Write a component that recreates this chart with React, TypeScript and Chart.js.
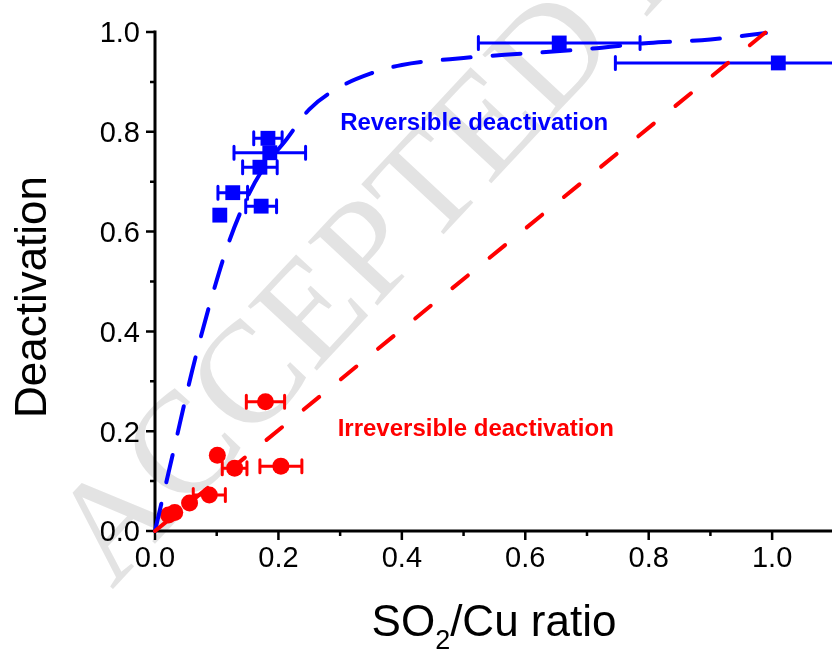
import React, { useEffect, useRef } from "react";
import { Chart, registerables } from "chart.js";

Chart.register(...registerables);

// Reversible deactivation (blue squares) with horizontal error half-widths
const revRatio = [0.105, 0.126, 0.172, 0.17, 0.186, 0.183, 0.655, 1.01];
const revDeact = [0.633, 0.678, 0.651, 0.729, 0.758, 0.787, 0.978, 0.938];
const revRatioErr = [0, 0.024, 0.025, 0.028, 0.058, 0.023, 0.131, 0.264];

// Irreversible deactivation (red circles) with horizontal error half-widths
const irrRatio = [0.022, 0.032, 0.056, 0.088, 0.101, 0.129, 0.179, 0.204];
const irrDeact = [0.032, 0.037, 0.056, 0.072, 0.152, 0.126, 0.259, 0.13];
const irrRatioErr = [0, 0, 0, 0.026, 0, 0.02, 0.031, 0.034];

// Dashed guide curves
const revCurveX = [0, 0.03, 0.06, 0.09, 0.12, 0.15, 0.18, 0.21, 0.25, 0.3, 0.35, 0.4, 0.5, 0.6, 0.7, 0.8, 0.9, 0.99];
const revCurveY = [0, 0.16, 0.32, 0.46, 0.58, 0.67, 0.735, 0.78, 0.845, 0.89, 0.917, 0.934, 0.948, 0.957, 0.966, 0.978, 0.985, 0.998];
const irrCurveX = [0, 0.99];
const irrCurveY = [0, 1.0];

// Axis ticks
const xMajorTicks = [0, 0.2, 0.4, 0.6, 0.8, 1.0];
const xMinorTicks = [0.1, 0.3, 0.5, 0.7, 0.9];
const yMajorTicks = [0, 0.2, 0.4, 0.6, 0.8, 1.0];
const yMinorTicks = [0.1, 0.3, 0.5, 0.7, 0.9];

const BLUE = "#0000ff";
const RED = "#ff0000";
const SANS = "'Liberation Sans', Arial, sans-serif";

const pts = (xs: number[], ys: number[]) => xs.map((x, i) => ({ x, y: ys[i] }));

function drawErrorBars(chart: any, xs: number[], ys: number[], errs: number[], color: string) {
  const { ctx, scales } = chart;
  ctx.save();
  ctx.strokeStyle = color;
  ctx.lineWidth = 3;
  ctx.lineCap = "round";
  xs.forEach((xv, i) => {
    const e = errs[i];
    if (!e) return;
    const py = scales.y.getPixelForValue(ys[i]);
    const x0 = scales.x.getPixelForValue(xv - e);
    const x1 = scales.x.getPixelForValue(xv + e);
    ctx.beginPath();
    ctx.moveTo(x0, py);
    ctx.lineTo(x1, py);
    ctx.moveTo(x0, py - 6.5);
    ctx.lineTo(x0, py + 6.5);
    ctx.moveTo(x1, py - 6.5);
    ctx.lineTo(x1, py + 6.5);
    ctx.stroke();
  });
  ctx.restore();
}

const decorPlugin = {
  id: "decor",
  beforeDatasetsDraw(chart: any) {
    const { ctx, scales, width } = chart;
    const { x, y } = scales;

    // watermark
    ctx.save();
    ctx.fillStyle = "#e3e3e3";
    ctx.font = "144px 'Liberation Serif', 'Times New Roman', serif";
    ctx.translate(112, 590);
    ctx.rotate((-47 * Math.PI) / 180);
    ctx.fillText("ACCEPTED MANUSCRIPT", 0, 0);
    ctx.restore();

    // axes
    ctx.save();
    ctx.strokeStyle = "#000";
    ctx.lineWidth = 3;
    ctx.lineCap = "butt";
    const ax = x.getPixelForValue(0);
    const ay = y.getPixelForValue(0);
    ctx.beginPath();
    ctx.moveTo(ax, y.getPixelForValue(1.0) - 1.5);
    ctx.lineTo(ax, ay);
    ctx.moveTo(ax - 1.5, ay);
    ctx.lineTo(width, ay);
    ctx.stroke();

    ctx.lineWidth = 2.5;
    ctx.beginPath();
    yMajorTicks.forEach((v) => {
      const p = y.getPixelForValue(v);
      ctx.moveTo(ax - 9, p);
      ctx.lineTo(ax, p);
    });
    yMinorTicks.forEach((v) => {
      const p = y.getPixelForValue(v);
      ctx.moveTo(ax - 5, p);
      ctx.lineTo(ax, p);
    });
    xMajorTicks.forEach((v) => {
      const p = x.getPixelForValue(v);
      ctx.moveTo(p, ay);
      ctx.lineTo(p, ay + 9);
    });
    xMinorTicks.forEach((v) => {
      const p = x.getPixelForValue(v);
      ctx.moveTo(p, ay);
      ctx.lineTo(p, ay + 5);
    });
    ctx.stroke();

    // tick labels
    const tf = 29;
    ctx.fillStyle = "#000";
    ctx.font = `${tf}px ${SANS}`;
    ctx.textBaseline = "alphabetic";
    ctx.textAlign = "right";
    yMajorTicks.forEach((v) => {
      const p = y.getPixelForValue(v);
      ctx.fillText(v.toFixed(1), ax - 15, p + tf * 0.358);
    });
    ctx.textAlign = "center";
    xMajorTicks.forEach((v) => {
      const p = x.getPixelForValue(v);
      ctx.fillText(v.toFixed(1), p, ay + 36);
    });

    // axis titles
    ctx.save();
    ctx.translate(46, 297);
    ctx.rotate(-Math.PI / 2);
    ctx.font = `44px ${SANS}`;
    ctx.textAlign = "center";
    ctx.fillText("Deactivation", 0, 0);
    ctx.restore();

    const big = `44px ${SANS}`;
    const small = `27px ${SANS}`;
    ctx.textAlign = "left";
    ctx.font = big;
    const w1 = ctx.measureText("SO").width;
    const w3 = ctx.measureText("/Cu ratio").width;
    ctx.font = small;
    const w2 = ctx.measureText("2").width;
    const cx = 494;
    const base = 636;
    let sx = cx - (w1 + w2 + w3) / 2;
    ctx.font = big;
    ctx.fillText("SO", sx, base);
    sx += w1;
    ctx.font = small;
    ctx.fillText("2", sx, base + 13);
    sx += w2;
    ctx.font = big;
    ctx.fillText("/Cu ratio", sx, base);

    // annotations
    ctx.font = `bold 24px ${SANS}`;
    ctx.textBaseline = "middle";
    ctx.fillStyle = BLUE;
    ctx.fillText("Reversible deactivation", x.getPixelForValue(0.3), y.getPixelForValue(0.816));
    ctx.fillStyle = RED;
    ctx.fillText("Irreversible deactivation", x.getPixelForValue(0.296), y.getPixelForValue(0.204));
    ctx.restore();

    // error bars sit beneath the markers
    drawErrorBars(chart, revRatio, revDeact, revRatioErr, BLUE);
    drawErrorBars(chart, irrRatio, irrDeact, irrRatioErr, RED);
  },
};

export default function App() {
  const canvasRef = useRef<HTMLCanvasElement | null>(null);

  useEffect(() => {
    const canvas = canvasRef.current;
    if (!canvas) return;
    const chart = new Chart(canvas, {
      type: "scatter",
      data: {
        datasets: [
          {
            label: "Irreversible fit",
            type: "line",
            data: pts(irrCurveX, irrCurveY),
            borderColor: RED,
            borderWidth: 4,
            borderDash: [20, 28],
            borderCapStyle: "round",
            pointRadius: 0,
            fill: false,
            clip: false,
          },
          {
            label: "Reversible fit",
            type: "line",
            data: pts(revCurveX, revCurveY),
            borderColor: BLUE,
            borderWidth: 4,
            borderDash: [28, 22],
            borderCapStyle: "round",
            cubicInterpolationMode: "monotone",
            pointRadius: 0,
            fill: false,
            clip: false,
          },
          {
            label: "Irreversible deactivation",
            data: pts(irrRatio, irrDeact),
            pointStyle: "circle",
            pointRadius: 8.5,
            backgroundColor: RED,
            borderColor: RED,
            borderWidth: 0,
            clip: false,
          },
          {
            label: "Reversible deactivation",
            data: pts(revRatio, revDeact),
            pointStyle: "rect",
            pointRadius: 10.5,
            backgroundColor: BLUE,
            borderColor: BLUE,
            borderWidth: 0,
            clip: false,
          },
        ],
      },
      options: {
        animation: false,
        responsive: false,
        devicePixelRatio: 1,
        layout: { padding: { left: 155, right: 0, top: 32, bottom: 119 } },
        plugins: { legend: { display: false }, tooltip: { enabled: false } },
        scales: {
          x: { type: "linear", min: 0, max: 1.08, display: false },
          y: { type: "linear", min: 0, max: 1.0, display: false },
        },
      },
      plugins: [decorPlugin],
    });
    return () => chart.destroy();
  }, []);

  return (
    <div style={{ position: "fixed", left: 0, top: 0, width: 832, height: 650, background: "#fff" }}>
      <canvas ref={canvasRef} width={832} height={650} />
    </div>
  );
}
